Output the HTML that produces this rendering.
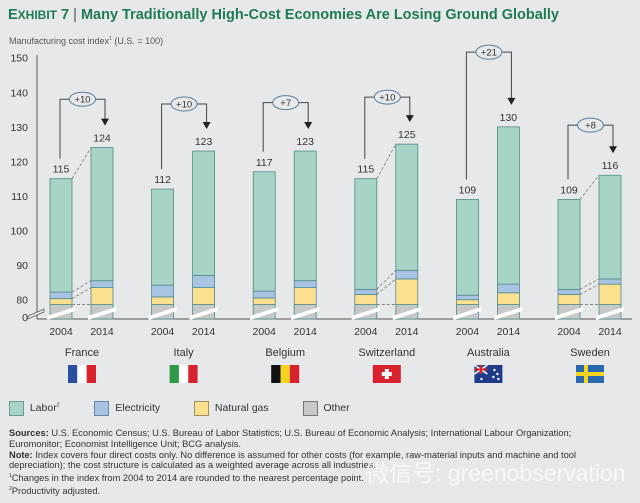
<!DOCTYPE html>
<html><head><meta charset="utf-8"><style>
body{margin:0;width:640px;height:503px;background:#e7e8e9;font-family:"Liberation Sans",sans-serif;overflow:hidden;position:relative}
.t{position:absolute;white-space:nowrap}
</style></head><body>
<div class="t" style="left:8px;top:7px;font-size:14.5px;font-weight:bold;color:#1f7a55">E<span style="font-size:12px">XHIBIT</span> 7 <span style="font-weight:normal;color:#555">|</span> Many Traditionally High-Cost Economies Are Losing Ground Globally</div>
<div class="t" style="left:9px;top:36px;font-size:9px;color:#555">Manufacturing cost index<sup style="font-size:5px">1</sup> (U.S. = 100)</div>
<svg id="chart" width="640" height="400" style="position:absolute;left:0;top:0" font-family="Liberation Sans, sans-serif"></svg>
<div class="t" style="left:9px;top:401px;font-size:10.5px;color:#333">
<span><span style="display:inline-block;width:13px;height:13px;background:#a8d3c7;border:1px solid #6a9a9a;vertical-align:middle"></span>&nbsp; Labor<sup style="font-size:5px">2</sup></span>
<span style="margin-left:32px"><span style="display:inline-block;width:13px;height:13px;background:#a9c3e2;border:1px solid #6a85a8;vertical-align:middle"></span>&nbsp; Electricity</span>
<span style="margin-left:31px"><span style="display:inline-block;width:13px;height:13px;background:#fbe090;border:1px solid #a09060;vertical-align:middle"></span>&nbsp; Natural gas</span>
<span style="margin-left:31px"><span style="display:inline-block;width:13px;height:13px;background:#c6c8ca;border:1px solid #777;vertical-align:middle"></span>&nbsp; Other</span>
</div>
<div class="t" style="left:9px;top:428px;font-size:9.3px;line-height:10.8px;color:#333">
<b>Sources:</b> U.S. Economic Census; U.S. Bureau of Labor Statistics; U.S. Bureau of Economic Analysis; International Labour Organization;<br>
Euromonitor; Economist Intelligence Unit; BCG analysis.<br>
<b>Note:</b> Index covers four direct costs only. No difference is assumed for other costs (for example, raw-material inputs and machine and tool<br>
depreciation); the cost structure is calculated as a weighted average across all industries.<br>
<sup style="font-size:5px">1</sup>Changes in the index from 2004 to 2014 are rounded to the nearest percentage point.<br>
<sup style="font-size:5px">2</sup>Productivity adjusted.</div>
<div class="t" style="left:366px;top:454px;font-size:23px;color:rgba(255,255,255,0.7);font-family:'Liberation Sans','Noto Sans CJK SC',sans-serif">微信号: greenobservation</div>
<script>
const countries=["France","Italy","Belgium","Switzerland","Australia","Sweden"];
const years=["2004","2014"];
const other2004=[78.6,78.6,78.6,78.6,78.6,78.6];
const gas2004=[80.3,80.8,80.5,81.5,80.0,81.5];
const elec2004=[82.2,84.2,82.5,83.0,81.3,83.0];
const total2004=[115,112,117,115,109,109];
const other2014=[78.6,78.6,78.6,78.6,78.6,78.6];
const gas2014=[83.5,83.5,83.5,86.0,82.0,84.5];
const elec2014=[85.5,87.0,85.5,88.5,84.5,86.0];
const total2014=[124,123,123,125,130,116];
const changes=["+10","+10","+7","+10","+21","+8"];
const bracketLevel=[138,136.6,137,138.6,151.6,130.5];
const yTicks=[80,90,100,110,120,130,140,150];
const NS="http://www.w3.org/2000/svg";
const svg=document.getElementById('chart');
function y(v){return 299.7-(v-80)*3.457;}
function groupX(i){return 82+i*101.6;}
const BW=22,BASE=319;
function el(tag,attrs,parent){const e=document.createElementNS(NS,tag);for(const k in attrs)e.setAttribute(k,attrs[k]);(parent||svg).appendChild(e);return e;}
let a=el('line',{x1:37,y1:55,x2:37,y2:BASE,stroke:'#555','stroke-width':1});


a=el('line',{x1:37,y1:BASE,x2:632,y2:BASE,stroke:'#555','stroke-width':1});


yTicks.forEach(v=>{const t=el('text',{x:28,y:y(v)+4,'text-anchor':'end','font-size':10.5,fill:'#333'});t.textContent=v;

});
let z=el('text',{x:28,y:BASE+2,'text-anchor':'end','font-size':10.5,fill:'#333'});z.textContent='0';


el('polygon',{points:'28,316 44,309 44,312 28,319',fill:'#e7e8e9',stroke:'#555','stroke-width':0.7});
const stacks=[[other2004,gas2004,elec2004,total2004],[other2014,gas2014,elec2014,total2014]];
const fills=['#c6c8ca','#fbe090','#a9c3e2','#a8d3c7'];
const names=['other','natural-gas','electricity','labor'];
countries.forEach((c,i)=>{
 const gx=groupX(i);
 const xs=[gx-32,gx+9];
 stacks.forEach((s,k)=>{
  const x=xs[k];let prev=BASE;
  for(let j=0;j<4;j++){
   const top=y(s[j][i]);
   const r=el('rect',{x:x,y:top,width:BW,height:prev-top,fill:fills[j],stroke:'#4f8c8a','stroke-width':0.8});
   
   
   prev=top;
  }
  el('polygon',{points:`${x-3},${BASE-3} ${x+BW+3},${BASE-12} ${x+BW+3},${BASE-8} ${x-3},${BASE+1}`,fill:'#fff'});
  const lt=el('text',{x:x+BW/2,y:y(s[3][i])-6,'text-anchor':'middle','font-size':10.5,fill:'#333'});lt.textContent=s[3][i];
  
  
  const yt=el('text',{x:x+BW/2,y:335,'text-anchor':'middle','font-size':10.5,fill:'#333'});yt.textContent=years[k];
  
  
 });
 const by=y(bracketLevel[i]);
 const x1=xs[0]+BW/2-1,x2=xs[1]+BW/2+3;
 const y1=y(total2004[i])-20,y2=y(total2014[i])-22;
 el('polyline',{points:`${x1},${y1} ${x1},${by} ${x2},${by} ${x2},${y2-6}`,fill:'none',stroke:'#444','stroke-width':1});
 el('polygon',{points:`${x2-4},${y2-7} ${x2+4},${y2-7} ${x2},${y2}`,fill:'#222'});
 const cx=(x1+x2)/2;
 const ov=el('ellipse',{cx:cx,cy:by,rx:13,ry:7,fill:'#e7e8e9',stroke:'#5a7f9a','stroke-width':1});
 
 
 const ct=el('text',{x:cx,y:by+3.5,'text-anchor':'middle','font-size':9.5,fill:'#333'});ct.textContent=changes[i];
 const cl=el('text',{x:gx,y:356,'text-anchor':'middle','font-size':11,fill:'#333'});cl.textContent=c;
 
 
 const fx=gx-14,fy=365,fw=28,fh=18;
 const g=el('g',{});
 
 
 if(c==="France"||c==="Italy"||c==="Belgium"){
  const cols={France:['#2b4ea0','#fff','#d8232f'],Italy:['#2e9a48','#fff','#d8232f'],Belgium:['#111','#f6d31f','#d8232f']}[c];
  cols.forEach((col,j)=>el('rect',{x:fx+j*fw/3,y:fy,width:fw/3,height:fh,fill:col},g));
 }else if(c==="Switzerland"){
  el('rect',{x:fx,y:fy,width:fw,height:fh,fill:'#d8232f'},g);
  el('rect',{x:fx+12,y:fy+4,width:4,height:10,fill:'#fff'},g);
  el('rect',{x:fx+9,y:fy+7,width:10,height:4,fill:'#fff'},g);
 }else if(c==="Australia"){
  el('rect',{x:fx,y:fy,width:fw,height:fh,fill:'#1f3b8a'},g);
  el('rect',{x:fx,y:fy,width:13,height:9,fill:'#2a4a9a'},g);
  el('line',{x1:fx,y1:fy,x2:fx+13,y2:fy+9,stroke:'#fff','stroke-width':1.5},g);
  el('line',{x1:fx+13,y1:fy,x2:fx,y2:fy+9,stroke:'#fff','stroke-width':1.5},g);
  el('rect',{x:fx+5.5,y:fy,width:2,height:9,fill:'#d8232f'},g);
  el('rect',{x:fx,y:fy+3.5,width:13,height:2,fill:'#d8232f'},g);
  [[20,5],[23,9],[19,12],[7,14],[24,14]].forEach(p=>el('circle',{cx:fx+p[0],cy:fy+p[1],r:1.2,fill:'#fff'},g));
 }else{
  el('rect',{x:fx,y:fy,width:fw,height:fh,fill:'#2a68b0'},g);
  el('rect',{x:fx+8,y:fy,width:4,height:fh,fill:'#f6d31f'},g);
  el('rect',{x:fx,y:fy+7,width:fw,height:4,fill:'#f6d31f'},g);
 }
});
[0,3,5].forEach(i=>{
 const gx=groupX(i);const xa=gx-32+BW,xb=gx+9;
 [[total2004,total2014],[elec2004,elec2014],[gas2004,gas2014],[other2004,other2014]].forEach(p=>{
  el('line',{x1:xa,y1:y(p[0][i]),x2:xb,y2:y(p[1][i]),stroke:'#777','stroke-width':0.8,'stroke-dasharray':'3,2'});
 });
});
</script>
</body></html>
